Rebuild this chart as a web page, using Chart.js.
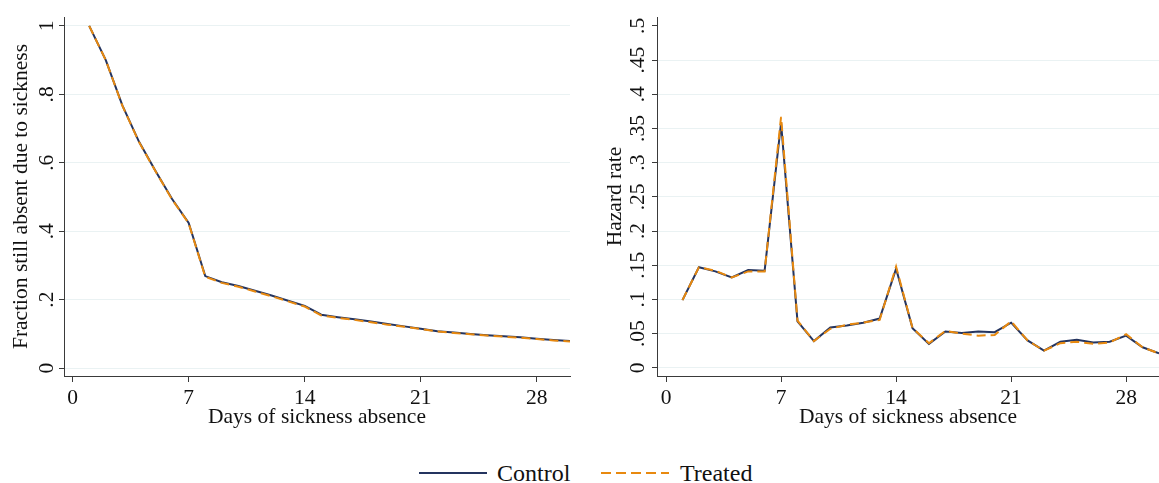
<!DOCTYPE html>
<html>
<head>
<meta charset="utf-8">
<script src="https://cdn.jsdelivr.net/npm/chart.js@4/dist/chart.umd.min.js"></script>
<style>
  html, body { margin:0; padding:0; background:#fff; }
  #wrap { position:relative; width:1159px; height:483px; background:#fff; font-family:"Liberation Serif", serif; }
  canvas { position:absolute; top:0; }
  #cLeft { left:0; }
  #cRight { left:580px; }
  .key { position:absolute; font-size:24px; line-height:24px; color:#111; white-space:nowrap; }
  .swatch { position:absolute; }
</style>
</head>
<body>
<div id="wrap">
  <canvas id="cLeft" width="580" height="440"></canvas>
  <canvas id="cRight" width="579" height="440"></canvas>
  <svg class="swatch" style="left:419px; top:463px" width="68" height="20"><line x1="0" y1="10" x2="68" y2="10" stroke="#24345f" stroke-width="2.2"/></svg>
  <div class="key" style="left:497px; top:461px">Control</div>
  <svg class="swatch" style="left:601px; top:463px" width="68" height="20"><line x1="0" y1="10" x2="68" y2="10" stroke="#e8890f" stroke-width="2.2" stroke-dasharray="10,5"/></svg>
  <div class="key" style="left:680px; top:461px">Treated</div>
</div>
<script>
// --- Dane ---
const days = [1,2,3,4,5,6,7,8,9,10,11,12,13,14,15,16,17,18,19,20,21,22,23,24,25,26,27,28,29,30];

const survControl = [1.000,0.900,0.768,0.662,0.576,0.494,0.424,0.269,0.251,0.240,0.226,0.212,0.197,0.182,0.156,0.149,0.143,0.136,0.129,0.122,0.115,0.108,0.104,0.100,0.096,0.093,0.090,0.086,0.082,0.079];
const survTreated = [1.000,0.900,0.767,0.661,0.575,0.493,0.423,0.267,0.249,0.238,0.224,0.210,0.195,0.180,0.154,0.147,0.141,0.134,0.127,0.121,0.114,0.107,0.103,0.099,0.095,0.092,0.089,0.085,0.081,0.078];

const hazControl = [0.099,0.147,0.141,0.132,0.143,0.142,0.358,0.068,0.039,0.059,0.062,0.066,0.072,0.145,0.058,0.035,0.053,0.051,0.053,0.052,0.066,0.040,0.025,0.038,0.041,0.037,0.038,0.047,0.030,0.021];
const hazTreated = [0.099,0.147,0.142,0.132,0.141,0.141,0.367,0.069,0.039,0.057,0.063,0.066,0.070,0.148,0.058,0.036,0.054,0.050,0.047,0.048,0.068,0.040,0.025,0.036,0.038,0.035,0.037,0.049,0.030,0.021];

const xTicks = [0,7,14,21,28];
const survTicks = [0,0.2,0.4,0.6,0.8,1];
const survTickLabels = ['0','.2','.4','.6','.8','1'];
const hazTicks = [0,0.05,0.1,0.15,0.2,0.25,0.3,0.35,0.4,0.45,0.5];
const hazTickLabels = ['0','.05','.1','.15','.2','.25','.3','.35','.4','.45','.5'];

// --- Style ---
const NAVY = '#24345f', ORANGE = '#e8890f', GRID = '#eaf2f3', AXIS = '#3a3a3a', TXT = '#111';
const FONT = 'Liberation Serif';

function pts(ys){ return days.map((d,i)=>({x:d, y:ys[i]})); }

function makeChart(id, ctl, trt, yTicks, yLabels, yMin, yMax, yTitle, cfg){
  return new Chart(document.getElementById(id), {
    type:'line',
    data:{ datasets:[
      { label:'Control', data:pts(ctl), borderColor:NAVY, borderWidth:2, pointRadius:0, tension:0, order:1 },
      { label:'Treated', data:pts(trt), borderColor:ORANGE, borderWidth:2, borderDash:[9,5], pointRadius:0, tension:0, order:0 }
    ]},
    options:{
      responsive:false, animation:false, devicePixelRatio:1,
      layout:{ padding:{ top:17, right:cfg.padRight, left:0, bottom:0 } },
      plugins:{ legend:{display:false}, tooltip:{enabled:false} },
      scales:{
        x:{
          type:'linear', min:cfg.xMin, max:30,
          afterBuildTicks: s => { s.ticks = xTicks.map(v=>({value:v})); },
          afterFit: s => { s.height = 64; },
          grid:{ drawOnChartArea:false, drawTicks:true, tickLength:6, tickColor:AXIS },
          border:{ display:true, color:AXIS, width:1 },
          ticks:{ color:TXT, font:{family:FONT, size:21.5}, padding:3, maxRotation:0, autoSkip:false },
          title:{ display:true, text:'Days of sickness absence', color:TXT, font:{family:FONT, size:21.5, lineHeight:1}, padding:{top:0, bottom:12} }
        },
        y:{
          type:'linear', min:yMin, max:yMax,
          afterBuildTicks: s => { s.ticks = yTicks.map(v=>({value:v})); },
          afterFit: s => { s.width = cfg.yWidth; },
          grid:{ color: c => (c.tick && c.tick.value >= cfg.noGridAbove) ? 'rgba(0,0,0,0)' : GRID, lineWidth:1, drawTicks:true, tickLength:5, tickColor:AXIS },
          border:{ display:true, color:AXIS, width:1 },
          ticks:{ color:TXT, font:{family:FONT, size:21.5}, minRotation:90, maxRotation:90, crossAlign:'center', padding:cfg.yPad, autoSkip:false,
                  callback:(v,i)=>yLabels[i] },
          title:{ display:true, text:yTitle, color:TXT, font:{family:FONT, size:21.5, lineHeight:1}, padding:{top:cfg.titlePad, bottom:0} }
        }
      }
    }
  });
}

// --- Wykresy ---
makeChart('cLeft', survControl, survTreated, survTicks, survTickLabels, -0.023, 1.026,
  'Fraction still absent due to sickness',
  { padRight:10, xMin:-0.52, yWidth:64, yPad:4, titlePad:11, noGridAbove:2 });

makeChart('cRight', hazControl, hazTreated, hazTicks, hazTickLabels, -0.012, 0.513,
  'Hazard rate',
  { padRight:0, xMin:-0.55, yWidth:77, yPad:0, titlePad:25, noGridAbove:0.5 });
</script>
</body>
</html>
